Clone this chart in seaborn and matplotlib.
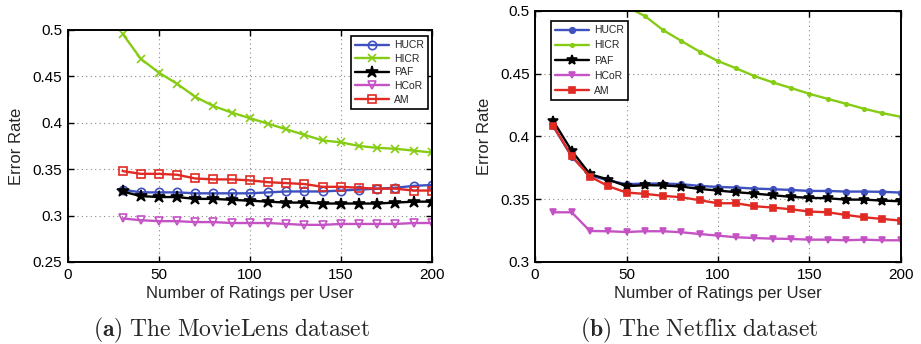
import matplotlib
matplotlib.use("Agg")
import matplotlib.pyplot as plt
import seaborn as sns

# MovieLens (a)
ML_X = [30, 40, 50, 60, 70, 80, 90, 100, 110, 120, 130, 140, 150, 160, 170, 180, 190, 200]
ML_HUCR = [0.328, 0.325, 0.325, 0.325, 0.324, 0.324, 0.324, 0.324, 0.325, 0.326,
           0.326, 0.326, 0.327, 0.328, 0.329, 0.330, 0.332, 0.333]
ML_HICR = [0.496, 0.469, 0.454, 0.442, 0.428, 0.418, 0.411, 0.405, 0.399, 0.393,
           0.387, 0.381, 0.379, 0.375, 0.373, 0.372, 0.370, 0.368]
ML_PAF = [0.326, 0.321, 0.320, 0.320, 0.318, 0.318, 0.317, 0.316, 0.315, 0.314,
          0.314, 0.313, 0.313, 0.313, 0.313, 0.314, 0.315, 0.315]
ML_HCOR = [0.297, 0.295, 0.294, 0.294, 0.293, 0.293, 0.292, 0.292, 0.292, 0.291,
           0.290, 0.290, 0.291, 0.291, 0.291, 0.291, 0.292, 0.292]
ML_AM = [0.348, 0.345, 0.345, 0.344, 0.340, 0.339, 0.339, 0.338, 0.336, 0.335,
         0.334, 0.331, 0.331, 0.330, 0.329, 0.329, 0.327, 0.327]

# Netflix (b)
NF_X = [10, 20, 30, 40, 50, 60, 70, 80, 90, 100, 110, 120, 130, 140, 150, 160, 170, 180, 190, 200]
NF_HUCR = [0.408, 0.384, 0.369, 0.365, 0.362, 0.3625, 0.3625, 0.362, 0.3606, 0.3598,
           0.3593, 0.3585, 0.358, 0.3574, 0.3566, 0.3566, 0.3561, 0.3561, 0.3559, 0.3553]
NF_HICR_X = [50, 60, 70, 80, 90, 100, 110, 120, 130, 140, 150, 160, 170, 180, 190, 200]
NF_HICR = [0.5035, 0.496, 0.4848, 0.4761, 0.4676, 0.4601, 0.4543, 0.4481, 0.4431, 0.4386,
           0.434, 0.430, 0.4261, 0.4221, 0.4186, 0.4157]
NF_PAF = [0.4122, 0.3886, 0.370, 0.3657, 0.3604, 0.3612, 0.361, 0.3601, 0.3582, 0.3569,
          0.3556, 0.3545, 0.3532, 0.3519, 0.3511, 0.3508, 0.3497, 0.3497, 0.3489, 0.3484]
NF_HCOR = [0.3396, 0.3396, 0.3247, 0.3245, 0.3239, 0.3245, 0.3245, 0.3237, 0.3223, 0.321,
           0.3197, 0.3191, 0.3186, 0.3184, 0.3178, 0.3178, 0.3173, 0.3178, 0.3173, 0.3173]
NF_AM = [0.4082, 0.3843, 0.3681, 0.3604, 0.3553, 0.3543, 0.3527, 0.3516, 0.3492, 0.3468,
         0.3468, 0.3444, 0.3434, 0.342, 0.3402, 0.3396, 0.3375, 0.3356, 0.3343, 0.333]

COLORS = {"HUCR": "#3f51bf", "HICR": "#86cc14", "PAF": "#000000",
          "HCoR": "#c552c5", "AM": "#e12a23"}

sns.set_theme(style="ticks")
plt.rcParams["font.family"] = ["Liberation Sans", "DejaVu Sans"]
plt.rcParams["mathtext.fontset"] = "cm"

fig = plt.figure(figsize=(9.21, 3.44), dpi=100)
ax1 = fig.add_axes([0.0738, 0.2384, 0.395, 0.6744])
ax2 = fig.add_axes([0.581, 0.2384, 0.397, 0.7297])


def draw(ax, x, y, name, marker, ms, mfc, lw=1.7):
    sns.lineplot(x=x, y=y, ax=ax, color=COLORS[name], marker=marker, markersize=ms,
                 markerfacecolor=mfc, markeredgecolor=COLORS[name], markeredgewidth=1.2,
                 linewidth=lw, label=name)


draw(ax1, ML_X, ML_HUCR, "HUCR", "o", 6, "none")
draw(ax1, ML_X, ML_HICR, "HICR", "x", 6, "none")
draw(ax1, ML_X, ML_PAF, "PAF", "*", 9, COLORS["PAF"])
draw(ax1, ML_X, ML_HCOR, "HCoR", "v", 6, "none")
draw(ax1, ML_X, ML_AM, "AM", "s", 5.5, "none")

draw(ax2, NF_X, NF_HUCR, "HUCR", "o", 4, COLORS["HUCR"])
draw(ax2, NF_HICR_X, NF_HICR, "HICR", ".", 5, COLORS["HICR"])
draw(ax2, NF_X, NF_PAF, "PAF", "*", 7, COLORS["PAF"])
draw(ax2, NF_X, NF_HCOR, "HCoR", "v", 5, COLORS["HCoR"])
draw(ax2, NF_X, NF_AM, "AM", "s", 4, COLORS["AM"])

for ax, ylim, yticks, ylabels, cap, cx in [
    (ax1, (0.25, 0.5), [0.25, 0.3, 0.35, 0.4, 0.45, 0.5],
     ["0.25", "0.3", "0.35", "0.4", "0.45", "0.5"],
     r"$\mathbf{(a)}\ \mathrm{The\ MovieLens\ dataset}$", 0.251),
    (ax2, (0.3, 0.5), [0.3, 0.35, 0.4, 0.45, 0.5],
     ["0.3", "0.35", "0.4", "0.45", "0.5"],
     r"$\mathbf{(b)}\ \mathrm{The\ Netflix\ dataset}$", 0.759),
]:
    ax.set_xlim(0, 200)
    ax.set_ylim(*ylim)
    ax.set_xticks([0, 50, 100, 150, 200])
    ax.set_xticklabels(["0", "50", "100", "150", "200"])
    ax.set_yticks(yticks)
    ax.set_yticklabels(ylabels)
    ax.tick_params(direction="in", top=True, right=True, labelsize=11, length=4,
                   width=1, colors="black", pad=4)
    ax.grid(True, linestyle=(0, (1, 3)), color="#8a8a8a", linewidth=0.8)
    for s in ax.spines.values():
        s.set_visible(True)
        s.set_linewidth(1.4)
        s.set_color("black")
    ax.set_xlabel("Number of Ratings per User", fontsize=12, labelpad=3)
    ax.set_ylabel("Error Rate", fontsize=12, labelpad=6)
    fig.text(cx, 0.04, cap, ha="center", va="center", fontsize=17)

leg_kw = dict(fontsize=7.5, frameon=True, fancybox=False, edgecolor="black",
              framealpha=1, handlelength=3.2, borderpad=0.4,
              handletextpad=0.5, borderaxespad=0)
l1 = ax1.legend(loc="upper right", bbox_to_anchor=(0.989, 0.974),
                labelspacing=0.35, **leg_kw)
l2 = ax2.legend(loc="upper left", bbox_to_anchor=(0.044, 0.96),
                labelspacing=0.5, **leg_kw)
for lg in (l1, l2):
    lg.get_frame().set_linewidth(1.2)

fig.savefig("out.png", dpi=100)
